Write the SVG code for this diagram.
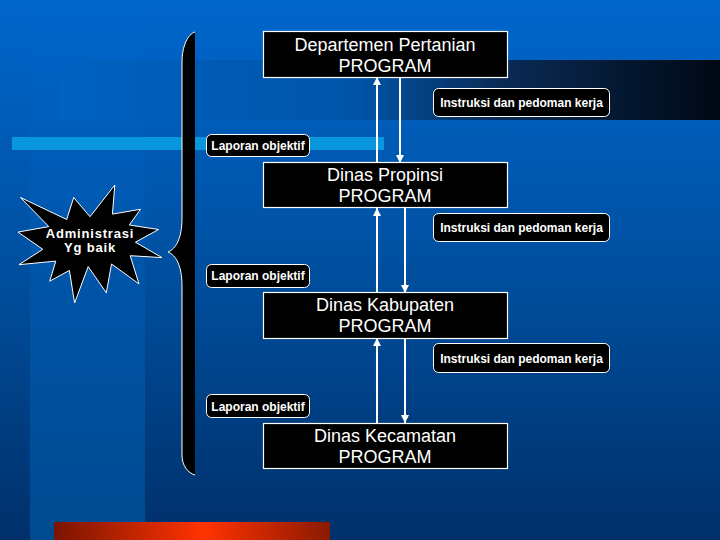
<svg xmlns="http://www.w3.org/2000/svg" width="720" height="540" viewBox="0 0 720 540">
  <defs>
    <linearGradient id="bg" x1="0" y1="0" x2="0" y2="1">
      <stop offset="0" stop-color="#0066CC"/>
      <stop offset="0.45" stop-color="#0052A4"/>
      <stop offset="1" stop-color="#00306A"/>
    </linearGradient>
    <linearGradient id="stripe" x1="0" y1="0" x2="0" y2="1">
      <stop offset="0" stop-color="#0066CC"/>
      <stop offset="0.45" stop-color="#0056AC"/>
      <stop offset="1" stop-color="#004A90"/>
    </linearGradient>
    <linearGradient id="band" x1="0" y1="0" x2="1" y2="0">
      <stop offset="0" stop-color="#0062C2"/>
      <stop offset="0.45" stop-color="#0054A8"/>
      <stop offset="0.66" stop-color="#0A2C58"/>
      <stop offset="1" stop-color="#000814"/>
    </linearGradient>
    <linearGradient id="red" x1="0" y1="0" x2="1" y2="0">
      <stop offset="0" stop-color="#7A1400"/>
      <stop offset="0.54" stop-color="#FF3300"/>
      <stop offset="1" stop-color="#8A1A00"/>
    </linearGradient>
    <marker id="arr" viewBox="0 0 8 8" refX="8" refY="4" markerWidth="8" markerHeight="8" markerUnits="userSpaceOnUse" orient="auto">
      <path d="M0,0 L8,4 L0,8 Z" fill="#FFFFFF"/>
    </marker>
    <style>
      .box { fill: #000000; stroke: #FFFFFF; stroke-width: 1.2; }
      .lbl { fill: #000000; stroke: #FFFFFF; stroke-width: 1; }
      .t { font-family: "Liberation Sans", Arial, sans-serif; font-size: 18px; fill: #FFFFFF; text-anchor: middle; }
      .tl { font-family: "Liberation Sans", Arial, sans-serif; font-size: 12px; font-weight: bold; fill: #FFFFFF; text-anchor: middle; }
      .ts { font-family: "Liberation Sans", Arial, sans-serif; font-size: 13px; font-weight: bold; fill: #FFFFFF; text-anchor: middle; letter-spacing: 0.8px; }
      .con { stroke: #FFFFFF; stroke-width: 2; fill: none; marker-end: url(#arr); }
    </style>
  </defs>

  <!-- background -->
  <rect x="0" y="0" width="720" height="540" fill="url(#bg)"/>
  <rect x="30" y="0" width="115" height="540" fill="url(#stripe)"/>
  <rect x="60" y="60" width="660" height="60" fill="url(#band)"/>
  <rect x="12" y="137" width="372" height="13" fill="#0A96DC"/>
  <rect x="54" y="522" width="276" height="18" fill="url(#red)"/>

  <!-- bracket -->
  <g id="bracket">
    <path d="M195,32 C188,34 182,46 182,62 L182,218 C182,238 176,249 168,252 C176,255 182,266 182,286 L182,455 C182,466 188,473 195,475 Z" fill="#000000"/>
    <path d="M195,32 C188,34 182,46 182,62 L182,218 C182,238 176,249 168,252 C176,255 182,266 182,286 L182,455 C182,466 188,473 195,475" fill="none" stroke="#FFFFFF" stroke-width="1"/>
  </g>

  <!-- star -->
  <g id="star">
    <polygon points="90,216.7 114.8,185 112.4,214.1 140.5,209.3 129.3,225 158.6,229.5 135.4,242.2 162,257.6 130.2,255.7 139,283.9 111.5,264 106.3,292.8 88.2,266.6 74.6,303 69.4,270.4 49.7,281.2 55.8,261.1 18.9,264.7 42.8,249.3 18,232.1 48.8,226.6 20.5,197.5 66.7,219.5 73.7,197.5" fill="#000000" stroke="#FFFFFF" stroke-width="1"/>
    <text class="ts" x="90" y="238">Administrasi</text>
    <text class="ts" x="90" y="252">Yg baik</text>
  </g>

  <!-- connectors -->
  <g id="connectors">
    <line class="con" x1="377" y1="163" x2="377" y2="77"/>
    <line class="con" x1="400" y1="77" x2="400" y2="163"/>
    <line class="con" x1="377" y1="293" x2="377" y2="208"/>
    <line class="con" x1="405" y1="208" x2="405" y2="293"/>
    <line class="con" x1="377" y1="423" x2="377" y2="338"/>
    <line class="con" x1="405" y1="338" x2="405" y2="423"/>
  </g>

  <!-- main nodes -->
  <g id="dept">
    <rect class="box" x="263.5" y="31.5" width="244" height="46"/>
    <text class="t" x="385" y="50.5">Departemen Pertanian</text>
    <text class="t" x="385" y="72">PROGRAM</text>
  </g>
  <g id="propinsi">
    <rect class="box" x="263.5" y="162.5" width="244" height="45"/>
    <text class="t" x="385" y="181">Dinas Propinsi</text>
    <text class="t" x="385" y="202">PROGRAM</text>
  </g>
  <g id="kabupaten">
    <rect class="box" x="263.5" y="292.5" width="244" height="46"/>
    <text class="t" x="385" y="311">Dinas Kabupaten</text>
    <text class="t" x="385" y="332">PROGRAM</text>
  </g>
  <g id="kecamatan">
    <rect class="box" x="263.5" y="423.5" width="244" height="45"/>
    <text class="t" x="385" y="442">Dinas Kecamatan</text>
    <text class="t" x="385" y="463">PROGRAM</text>
  </g>

  <!-- labels -->
  <g id="instruksi1">
    <rect class="lbl" x="433.5" y="88.5" width="176" height="28" rx="5"/>
    <text class="tl" x="521.5" y="107">Instruksi dan pedoman kerja</text>
  </g>
  <g id="laporan1">
    <rect class="lbl" x="206.5" y="134.5" width="103" height="22" rx="5"/>
    <text class="tl" x="258" y="150">Laporan objektif</text>
  </g>
  <g id="instruksi2">
    <rect class="lbl" x="433.5" y="213.5" width="176" height="28" rx="5"/>
    <text class="tl" x="521.5" y="232">Instruksi dan pedoman kerja</text>
  </g>
  <g id="laporan2">
    <rect class="lbl" x="206.5" y="264.5" width="103" height="23" rx="5"/>
    <text class="tl" x="258" y="280">Laporan objektif</text>
  </g>
  <g id="instruksi3">
    <rect class="lbl" x="433.5" y="343.5" width="176" height="29" rx="5"/>
    <text class="tl" x="521.5" y="362.5">Instruksi dan pedoman kerja</text>
  </g>
  <g id="laporan3">
    <rect class="lbl" x="206.5" y="394.5" width="103" height="23" rx="5"/>
    <text class="tl" x="258" y="411">Laporan objektif</text>
  </g>
</svg>
